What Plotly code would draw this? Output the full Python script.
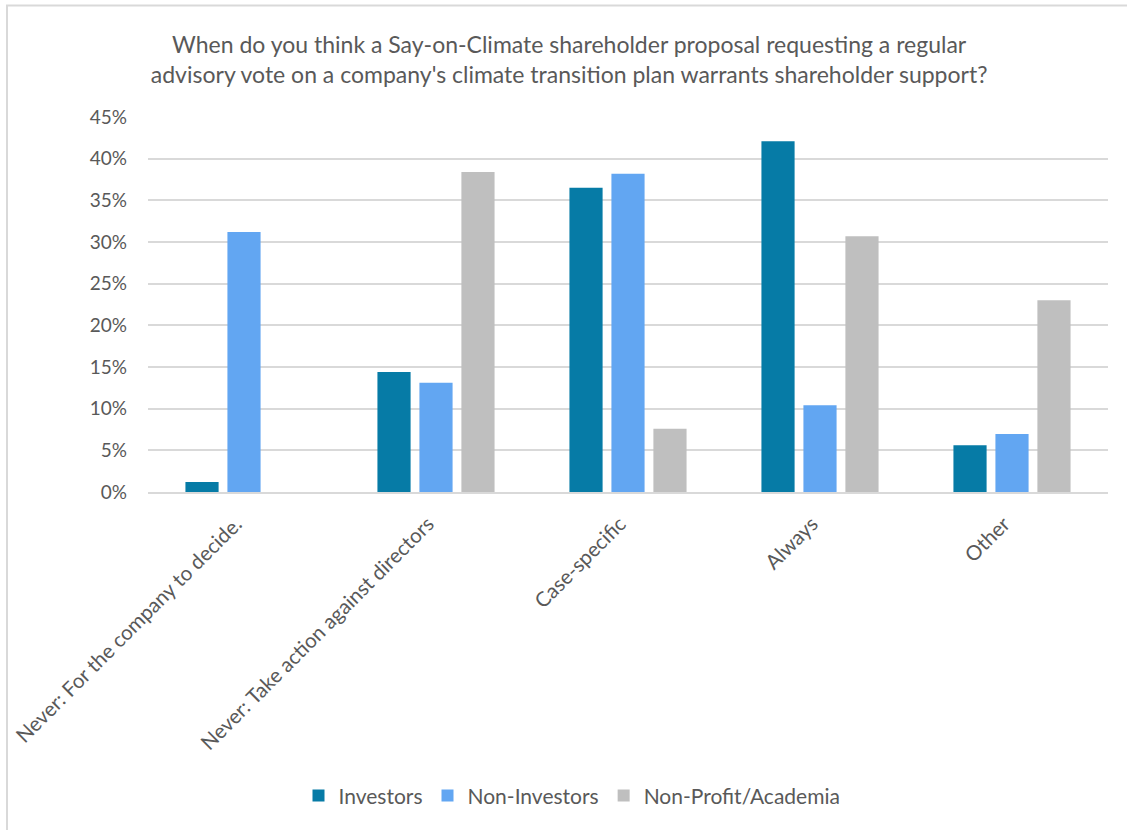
import plotly.graph_objects as go

categories = ["Never: For the company to decide.", "Never: Take action against directors",
              "Case-specific", "Always", "Other"]
investors = [0.012, 0.144, 0.365, 0.421, 0.056]
non_investors = [0.312, 0.131, 0.382, 0.104, 0.0695]
non_profit = [0.0, 0.384, 0.076, 0.307, 0.230]
series_names = ["Investors", "Non-Investors", "Non-Profit/Academia"]
colors = ["#067BA6", "#62A6F2", "#BFBFBF"]
y_ticks = [0, 0.05, 0.10, 0.15, 0.20, 0.25, 0.30, 0.35, 0.40, 0.45]

FONT = "Lato, 'Open Sans', sans-serif"
TXT = "#595959"

fig = go.Figure()
for name, vals, col in zip(series_names, [investors, non_investors, non_profit], colors):
    fig.add_trace(go.Bar(name=name, x=categories, y=vals, marker_color=col,
                         marker_line_width=0))

fig.update_layout(
    width=1127, height=830,
    paper_bgcolor="white", plot_bgcolor="white",
    barmode="group", bargap=0.344, bargroupgap=0.21,
    margin=dict(l=148, r=19, t=117, b=338),
    title=dict(
        text="When do you think a Say-on-Climate shareholder proposal requesting a regular<br>advisory vote on a company's climate transition plan warrants shareholder support?",
        x=0.505, xanchor="center", y=1 - 53 / 830, yanchor="middle",
        font=dict(family=FONT, size=23, color=TXT)),
    font=dict(family=FONT, size=18, color=TXT),
    legend=dict(orientation="h", x=(572 - 148) / 960, xanchor="center", y=-0.81, yanchor="middle",
                font=dict(family=FONT, size=21, color=TXT), itemwidth=30,
                traceorder="normal"),
    showlegend=True,
)
fig.update_xaxes(tickangle=-45, showgrid=False, showline=True, linecolor="#D9D9D9",
                 linewidth=2, ticks="", tickfont=dict(size=20.5, color=TXT),
                 ticklabelstandoff=10, ticklabelshift=-8)
fig.update_yaxes(range=[0, 0.45], tickvals=y_ticks, tickformat=".0%",
                 showgrid=True, gridcolor="#D9D9D9", gridwidth=2, zeroline=False,
                 showline=False, ticks="", tickfont=dict(size=19, color=TXT),
                 ticklabelstandoff=20)

# outer chart border (left/top visible)
fig.add_shape(type="rect", xref="paper", yref="paper",
              x0=(7 - 148) / 960, x1=(1140 - 148) / 960,
              y0=-(850 - 492) / 375, y1=1 + (117 - 5.5) / 375,
              line=dict(color="#D9D9D9", width=2), fillcolor="rgba(0,0,0,0)", layer="below")

fig.write_html("out.html", post_script="document.body.style.margin='0';",
               config={"displayModeBar": False})
